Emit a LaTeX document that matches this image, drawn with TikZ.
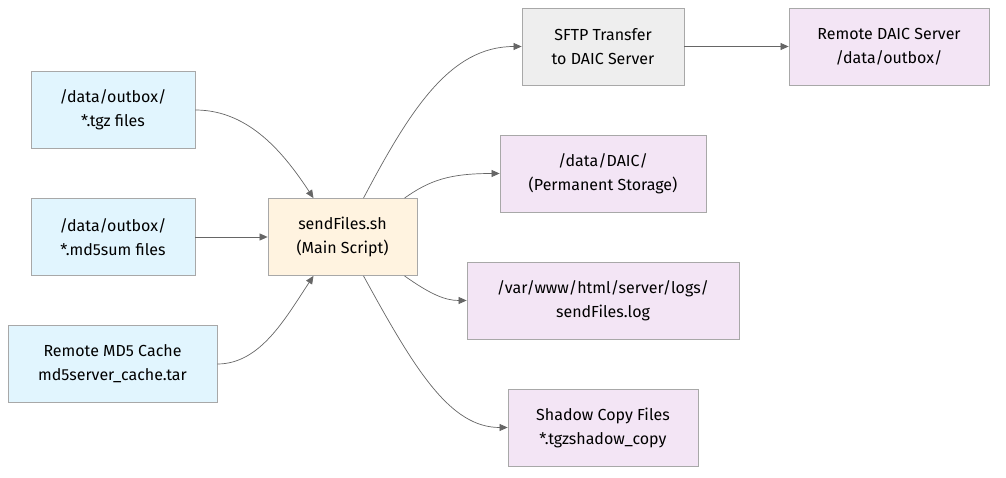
\documentclass[tikz,border=0pt]{standalone}
\usepackage{fontspec}
\setmainfont{Fira Sans}
\usetikzlibrary{arrows.meta}
\definecolor{srcfill}{HTML}{E1F5FE}
\definecolor{mainfill}{HTML}{FFF3E0}
\definecolor{dstfill}{HTML}{F3E5F5}
\definecolor{xferfill}{HTML}{EEEEEE}
\definecolor{boxline}{HTML}{A8A8A8}
\definecolor{linkline}{HTML}{666666}

\begin{document}
\begin{tikzpicture}[x=1pt,y=-1pt,
  box/.style={draw=boxline,line width=0.8pt,minimum height=77pt,align=center,
    inner sep=0pt,font=\fontsize{16}{24}\selectfont},
  src/.style={box,fill=srcfill},
  script/.style={box,fill=mainfill},
  dst/.style={box,fill=dstfill},
  xfer/.style={box,fill=xferfill},
  link/.style={draw=linkline,line width=0.7pt,-{Triangle[length=8pt,width=7pt]}}]
              \useasboundingbox (0,0) rectangle (1006,478);
              \node (TGZ)    [src,minimum width=164pt]    at (113,110)   {/data/outbox/\\*.tgz files};
              \node (MD5)    [src,minimum width=164pt]    at (113,237)   {/data/outbox/\\*.md5sum files};
              \node (Cache)  [src,minimum width=209pt]    at (112.5,364) {Remote MD5 Cache\\md5server\_cache.tar};
              \node (Main)   [script,minimum width=149pt] at (342.5,237) {sendFiles.sh\\(Main Script)};
              \node (SFTP)   [xfer,minimum width=162pt]   at (603,46.5)  {SFTP Transfer\\to DAIC Server};
              \node (Remote) [dst,minimum width=200pt]    at (889,46.5)  {Remote DAIC Server\\/data/outbox/};
              \node (DAIC)   [dst,minimum width=206pt]    at (603,173.5) {/data/DAIC/\\(Permanent Storage)};
              \node (Log)    [dst,minimum width=272pt]    at (603,300.5) {/var/www/html/server/logs/\\sendFiles.log};
              \node (Shadow) [dst,minimum width=190pt]    at (603,427.5) {Shadow Copy Files\\*.tgzshadow\_copy};
              \draw[link] (TGZ.east) .. controls (250,110) and (285,155) .. ([xshift=-29pt]Main.north);
              \draw[link] (MD5.east) -- (Main.west);
              \draw[link] (Cache.east) .. controls (260,364) and (285,319) .. ([xshift=-29pt]Main.south);
              \draw[link] ([xshift=21pt]Main.north) .. controls (410,110) and (450,46.5) .. (SFTP.west);
              \draw[link] ([xshift=62pt]Main.north) .. controls (430,180) and (450,173.5) .. (DAIC.west);
              \draw[link] ([xshift=62pt]Main.south) .. controls (430,294) and (445,300.5) .. (Log.west);
              \draw[link] ([xshift=21pt]Main.south) .. controls (415,370) and (450,427.5) .. (Shadow.west);
              \draw[link] (SFTP.east) -- (Remote.west);
            \end{tikzpicture}
\end{document}
